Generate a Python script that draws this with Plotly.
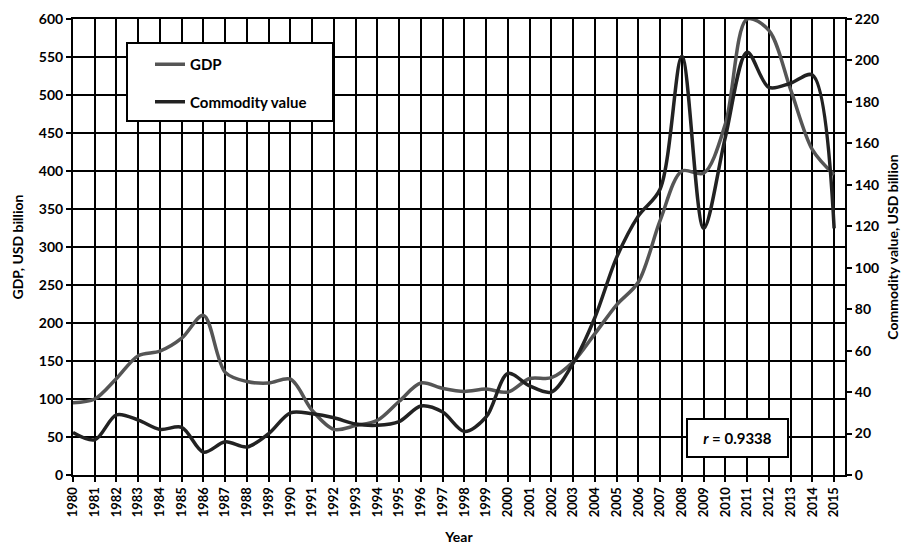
import plotly.graph_objects as go

years = list(range(1980, 2016))
gdp = [95, 100, 127, 157, 163, 180, 210, 135, 123, 121, 126, 85, 60, 65, 72, 97,
       121, 114, 110, 113, 109, 127, 128, 149, 186, 224, 254, 335, 400, 397, 462,
       600, 585, 507, 428, 395]
commodity = [20.5, 17, 29, 26.5, 22, 23, 11, 16, 13.5, 20, 30, 29.5, 27.6, 24.6, 24,
             25.8, 33.3, 30.4, 21, 28, 49, 43, 40, 54, 76, 105, 125, 138, 202, 119,
             163, 204, 187, 189, 193, 119]
year_labels = [str(y) for y in years]
left_ticks = list(range(0, 601, 50))
right_ticks = list(range(0, 221, 20))

FONT = "Lato"
fig = go.Figure()
fig.add_trace(go.Scatter(x=years, y=gdp, name="GDP", mode="lines",
                         line=dict(color="#555555", width=3.5, shape="spline", smoothing=0.9),
                         legendgroup="a"))
fig.add_trace(go.Scatter(x=years, y=commodity, name="Commodity value", mode="lines",
                         line=dict(color="#222222", width=3.5, shape="spline", smoothing=0.9),
                         yaxis="y2", legendgroup="b"))

fig.update_layout(
    width=909, height=547,
    margin=dict(l=73, r=64, t=19, b=72),
    plot_bgcolor="white", paper_bgcolor="white",
    font=dict(family=FONT, size=13, color="black"),
    showlegend=True,
    legend=dict(x=(150 - 73) / 772, y=(475 - 48) / 456, xanchor="left", yanchor="top",
                bgcolor="rgba(0,0,0,0)", borderwidth=0,
                tracegroupgap=15, itemwidth=30, traceorder="grouped",
                font=dict(family=FONT, size=15, color="black", weight="bold")),
    xaxis=dict(range=[1980, 2015.5], tickvals=years, ticktext=year_labels,
               tickangle=-90, showgrid=True, gridcolor="black", gridwidth=1.5,
               showline=True, linecolor="black", linewidth=2, mirror=True,
               ticks="outside", ticklen=5, tickcolor="black", tickwidth=1.5,
               tickfont=dict(family=FONT, size=13, weight="bold"),
               title=dict(text="Year", font=dict(family=FONT, size=14, weight="bold"), standoff=16),
               zeroline=False, automargin=False),
    yaxis=dict(range=[0, 600], tickvals=left_ticks, showgrid=True, gridcolor="black",
               gridwidth=1.5, showline=True, linecolor="black", linewidth=2,
               ticks="outside", ticklen=5, tickcolor="black", tickwidth=1.5,
               tickfont=dict(family=FONT, size=14, weight="bold"),
               title=dict(text="GDP, USD billion", font=dict(family=FONT, size=14, weight="bold"), standoff=12),
               zeroline=False, automargin=False),
    yaxis2=dict(range=[0, 220], tickvals=right_ticks, overlaying="y", side="right",
                showgrid=False, showline=True, linecolor="black", linewidth=2,
                ticks="outside", ticklen=5, tickcolor="black", tickwidth=1.5,
                tickfont=dict(family=FONT, size=14, weight="bold"),
                title=dict(text="Commodity value, USD billion", font=dict(family=FONT, size=14, weight="bold"), standoff=10),
                zeroline=False, automargin=False),
)

# legend frame
fig.add_shape(type="rect", xref="paper", yref="paper",
              x0=(127 - 73) / 772, x1=(333 - 73) / 772,
              y0=(475 - 121) / 456, y1=(475 - 43) / 456,
              fillcolor="white", line=dict(color="black", width=2), layer="above")

fig.add_annotation(x=(737 - 73) / 772, y=(475 - 438) / 456, xref="paper", yref="paper",
                   xanchor="center", yanchor="middle",
                   text="<i>r</i> = 0.9338", showarrow=False,
                   font=dict(family=FONT, size=15, color="black", weight="bold"),
                   bgcolor="white", bordercolor="black", borderwidth=2,
                   width=97, height=34)

fig.write_html("out.html", config={"displayModeBar": False},
               post_script="document.body.style.margin='0';")
